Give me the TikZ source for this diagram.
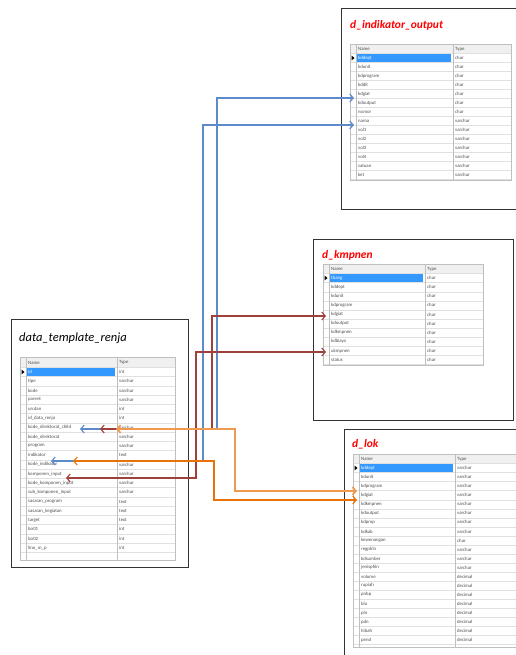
\documentclass[tikz,border=0pt]{standalone}
\usepackage{fontspec}
\setmainfont{Carlito}
\usetikzlibrary{arrows.meta}
\definecolor{linkblue}{HTML}{5B8BCB}
\definecolor{linkred}{HTML}{A0403C}
\definecolor{linkorange}{HTML}{E8710A}
\definecolor{linkorangel}{HTML}{EF9A50}
\definecolor{selblue}{HTML}{3399FF}

\begin{document}
\begin{tikzpicture}[x=1pt,y=-1pt,
  cell/.style={anchor=west,inner sep=0pt,font=\fontsize{4.8}{5}\selectfont,text=black!70},
  ttl/.style={anchor=west,inner sep=0pt,font=\fontsize{11.5}{13}\selectfont\bfseries\itshape,text=red},
  tblframe/.style={draw=black!80,line width=1pt},
  rowline/.style={draw=black!12,line width=.4pt},
  colline/.style={draw=black!25,line width=.4pt},
  link/.style={line width=1.1pt,{Straight Barb[length=3.5pt,width=8pt]}-{Straight Barb[length=3.5pt,width=8pt]}}]
  \useasboundingbox (0,0) rectangle (515,655);

  % d_indikator_output
  \draw[tblframe] (341,9) rectangle (525,209);
  \node[ttl] (indTitle) at (350,25) {d\_indikator\_output};
  \fill[black!6] (350,44.5) rectangle (511,53.5);
  \foreach \k in {0,...,14} \draw[rowline] (350,{53.5+\k*9}) -- (511,{53.5+\k*9});
  \draw[colline] (350,44.5) rectangle (511,180) (356,44.5) -- (356,180) (453,44.5) -- (453,180);
  \fill[selblue] (357,54) rectangle (451,62);
  \fill (351.5,55.5) -- (354.5,58) -- (351.5,60.5) -- cycle;
  \node[cell] (indName) at (358,49) {Name};
  \node[cell] (indType) at (455,49) {Type};
  \node[cell,text=white] (ind1) at (358,58) {kddept};
  \node[cell] (indT1) at (455,58) {char};
  \foreach \n/\t [count=\i from 2] in {kdunit/char,kdprogram/char,kddit/char,kdgiat/char,kdoutput/char,nomor/char,nama/varchar,vol1/varchar,vol2/varchar,vol3/varchar,vol4/varchar,satuan/varchar,ket/varchar}{
    \node[cell] (ind\i) at (358,{58+(\i-1)*9}) {\n};
    \node[cell] (indT\i) at (455,{58+(\i-1)*9}) {\t};
  }

  % d_kmpnen
  \draw[tblframe] (313,239) rectangle (513,420);
  \node[ttl] (kmpTitle) at (322,255) {d\_kmpnen};
  \fill[black!6] (323,264.5) rectangle (483,273.5);
  \foreach \k in {0,...,10} \draw[rowline] (323,{273.5+\k*9.1}) -- (483,{273.5+\k*9.1});
  \draw[colline] (323,264.5) rectangle (483,365) (329,264.5) -- (329,365) (425,264.5) -- (425,365);
  \fill[selblue] (330,274) rectangle (423,282);
  \fill (324.5,275.5) -- (327.5,278) -- (324.5,280.5) -- cycle;
  \node[cell] (kmpName) at (331,269) {Name};
  \node[cell] (kmpType) at (427,269) {Type};
  \node[cell,text=white] (kmp1) at (331,278) {thang};
  \node[cell] (kmpT1) at (427,278) {char};
  \foreach \n/\t [count=\i from 2] in {kddept/char,kdunit/char,kdprogram/char,kdgiat/char,kdoutput/char,kdkmpnen/char,kdbiaya/char,ukmpnen/char,status/char}{
    \node[cell] (kmp\i) at (331,{278+(\i-1)*9.1}) {\n};
    \node[cell] (kmpT\i) at (427,{278+(\i-1)*9.1}) {\t};
  }

  % data_template_renja
  \draw[tblframe] (11,319) rectangle (188,567);
  \node[anchor=west,inner sep=0pt,font=\fontsize{12.5}{14}\selectfont\itshape] (renTitle) at (19,338) {data\_template\_renja};
  \fill[black!6] (20,357.5) rectangle (175,367.4);
  \foreach \k in {0,...,20} \draw[rowline] (20,{367.4+\k*9.25}) -- (175,{367.4+\k*9.25});
  \draw[colline] (20,357.5) rectangle (175,560) (26,357.5) -- (26,560) (117,357.5) -- (117,560);
  \fill[selblue] (27,368) rectangle (115,376);
  \fill (21.5,369.5) -- (24.5,372) -- (21.5,374.5) -- cycle;
  \node[cell] (renName) at (28,362.5) {Name};
  \node[cell] (renType) at (119,362.5) {Type};
  \node[cell,text=white] (ren1) at (28,372) {id};
  \node[cell] (renT1) at (119,372) {int};
  \foreach \n/\t [count=\i from 2] in {tipe/varchar,kode/varchar,parent/varchar,urutan/int,id\_data\_renja/int,kode\_direktorat\_child/varchar,kode\_direktorat/varchar,program/varchar,indikator/text,kode\_indikator/varchar,komponen\_input/varchar,kode\_komponen\_input/varchar,sub\_komponen\_input/varchar,sasaran\_program/text,sasaran\_kegiatan/text,target/text,bo01/int,bo02/int,lino\_m\_p/int}{
    \node[cell] (ren\i) at (28,{372+(\i-1)*9.25}) {\n};
    \node[cell] (renT\i) at (119,{372+(\i-1)*9.25}) {\t};
  }

  % d_lok
  \draw[tblframe] (344,429) rectangle (525,665);
  \node[ttl] (lokTitle) at (352,444) {d\_lok};
  \fill[black!6] (353,454.5) rectangle (520,463.5);
  \foreach \k in {0,...,20} \draw[rowline] (353,{463.5+\k*9.05}) -- (520,{463.5+\k*9.05});
  \draw[colline] (353,454.5) rectangle (520,647) (359,454.5) -- (359,647) (455,454.5) -- (455,647);
  \fill[selblue] (360,464) rectangle (453,472);
  \fill (354.5,465.5) -- (357.5,468) -- (354.5,470.5) -- cycle;
  \node[cell] (lokName) at (361,459) {Name};
  \node[cell] (lokType) at (457,459) {Type};
  \node[cell,text=white] (lok1) at (361,468) {kddept};
  \node[cell] (lokT1) at (457,468) {varchar};
  \foreach \n/\t [count=\i from 2] in {kdunit/varchar,kdprogram/varchar,kdgiat/varchar,kdkmpnen/varchar,kdoutput/varchar,kdprop/varchar,kdkab/varchar,kewenangan/char,regphln/varchar,kdsumber/varchar,jenisphln/varchar,volume/decimal,rupiah/decimal,pnbp/decimal,blu/decimal,pln/decimal,pdn/decimal,hibah/decimal,pend/decimal}{
    \node[cell] (lok\i) at (361,{468+(\i-1)*9.05}) {\n};
    \node[cell] (lokT\i) at (457,{468+(\i-1)*9.05}) {\t};
  }

  % link ends
  \coordinate (renChildB) at (80,429);
  \coordinate (renChildR) at (100,429);
  \coordinate (renChildO) at (116,429);
  \coordinate (renIndB) at (51,461);
  \coordinate (renIndO) at (73,461);
  \coordinate (renKompR) at (66,478);
  \coordinate (indGiat) at (354,98);
  \coordinate (indNama) at (354,125);
  \coordinate (kmpGiat) at (326,316);
  \coordinate (kmpUkmp) at (326,352);
  \coordinate (lokProg) at (357,491);
  \coordinate (lokGiat) at (357,500);

  \draw[link,linkblue] (renChildB) -- ++(137,0) |- (indGiat);
  \draw[link,linkblue] (renIndB) -- ++(152,0) |- (indNama);
  \draw[link,linkred] (renChildR) -- ++(112,0) |- (kmpGiat);
  \draw[link,linkred] (renKompR) -- ++(130,0) |- (kmpUkmp);
  \draw[link,linkorangel,line width=1.7pt] (renChildO) -- ++(119,0) |- (lokProg);
  \draw[link,linkorange] (renIndO) -- ++(141,0) |- (lokGiat);
\end{tikzpicture}
\end{document}
